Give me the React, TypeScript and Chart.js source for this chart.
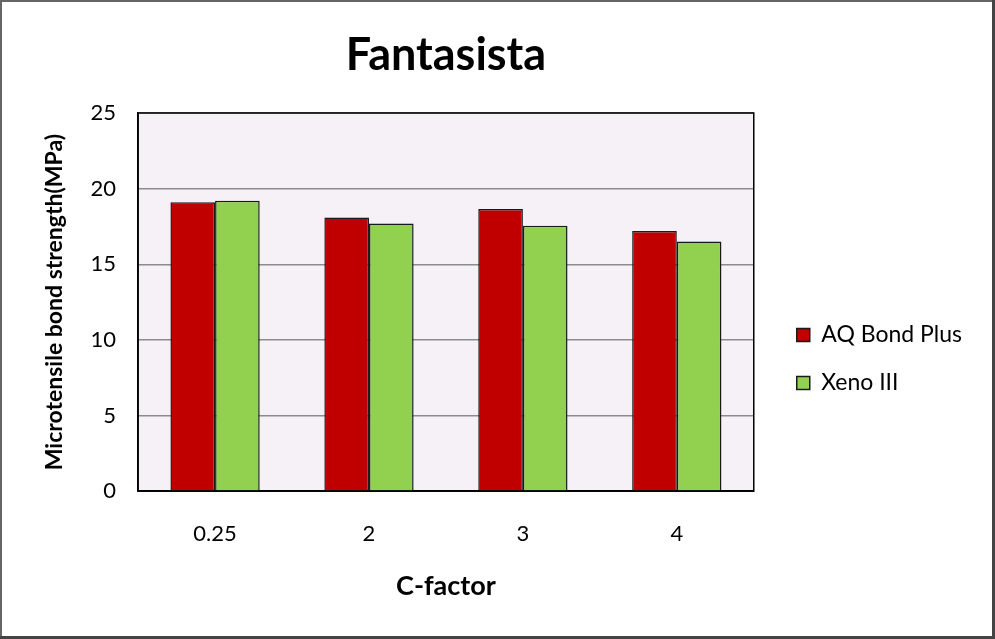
import React, { useEffect, useRef } from "react";
import { Chart, registerables } from "chart.js";

Chart.register(...registerables);

const categories = ["0.25", "2", "3", "4"];
const aqBondPlus = [19.1, 18.1, 18.65, 17.2];
const xenoIII = [19.2, 17.7, 17.55, 16.5];
const seriesNames = ["AQ Bond Plus", "Xeno III"];
const titleText = "Fantasista";
const yTitle = "Microtensile bond strength(MPa)";
const xTitle = "C-factor";

const FONT = "Lato, 'Open Sans', sans-serif";
const LEGEND_DX = 18;
const LEGEND_DY = 56;

const decorPlugin = {
  id: "decor",
  afterLayout(chart: any) {
    const lg = chart.legend;
    if (lg) {
      lg.left += LEGEND_DX;
      lg.right += LEGEND_DX;
      lg.top += LEGEND_DY;
      lg.bottom += LEGEND_DY;
    }
  },
  beforeDraw(chart: any) {
    const { ctx, chartArea } = chart;
    ctx.save();
    ctx.fillStyle = "#ffffff";
    ctx.fillRect(0, 0, chart.width, chart.height);
    ctx.fillStyle = "#F5F1F6";
    ctx.fillRect(chartArea.left, chartArea.top, chartArea.right - chartArea.left, chartArea.bottom - chartArea.top);
    ctx.restore();
  },
  afterDraw(chart: any) {
    const { ctx, chartArea } = chart;
    ctx.save();
    ctx.strokeStyle = "#000";
    ctx.lineWidth = 1.5;
    ctx.strokeRect(chartArea.left, chartArea.top, chartArea.right - chartArea.left, chartArea.bottom - chartArea.top);
    ctx.fillStyle = "#666";
    ctx.fillRect(0, 0, chart.width, 2);
    ctx.fillRect(0, 0, 2, chart.height);
    ctx.fillStyle = "#444";
    ctx.fillRect(chart.width - 3, 0, 3, chart.height);
    ctx.fillRect(0, chart.height - 3, chart.width, 3);
    ctx.restore();
  },
};

export default function App() {
  const ref = useRef<HTMLCanvasElement>(null);
  useEffect(() => {
    if (!ref.current) return;
    const chart = new Chart(ref.current, {
      type: "bar",
      data: {
        labels: categories,
        datasets: [
          {
            label: seriesNames[0],
            data: aqBondPlus,
            backgroundColor: "#C00000",
            borderColor: "#1a1a1a",
            borderWidth: 1.5,
            categoryPercentage: 0.58,
            barPercentage: 1,
          },
          {
            label: seriesNames[1],
            data: xenoIII,
            backgroundColor: "#92D050",
            borderColor: "#1a1a1a",
            borderWidth: 1.5,
            categoryPercentage: 0.58,
            barPercentage: 1,
          },
        ],
      },
      options: {
        responsive: false,
        animation: false,
        layout: { padding: { left: 41, right: 41, top: 0, bottom: 33 } },
        plugins: {
          title: {
            display: true,
            fullSize: false,
            text: titleText,
            color: "#000",
            font: { family: FONT, size: 45, weight: "bold" },
            padding: { top: 28, bottom: 31 },
          },
          legend: {
            position: "right",
            labels: {
              color: "#000",
              boxWidth: 13,
              boxHeight: 13,
              padding: 25,
              font: { family: FONT, size: 23 },
            },
          },
          tooltip: { enabled: false },
        },
        scales: {
          x: {
            grid: { display: false },
            border: { display: true, color: "#000", width: 1.5 },
            ticks: { color: "#000", font: { family: FONT, size: 22 }, padding: 22 },
            title: {
              display: true,
              text: xTitle,
              color: "#000",
              font: { family: FONT, size: 27, weight: "bold" },
              padding: { top: 0, bottom: 4 },
            },
          },
          y: {
            min: 0,
            max: 25,
            ticks: { stepSize: 5, color: "#000", font: { family: FONT, size: 22 }, padding: 22 },
            grid: { color: "#8c8c8c", lineWidth: 1.5, drawTicks: false },
            border: { display: true, color: "#000", width: 1.5 },
            title: {
              display: true,
              text: yTitle,
              color: "#000",
              font: { family: FONT, size: 23, weight: "bold" },
              padding: { top: 0, bottom: 0 },
            },
          },
        },
      },
      plugins: [decorPlugin],
    });
    return () => chart.destroy();
  }, []);
  return (
    <div style={{ position: "absolute", left: 0, top: 0, width: 995, height: 639 }}>
      <canvas ref={ref} width={995} height={639} />
    </div>
  );
}
